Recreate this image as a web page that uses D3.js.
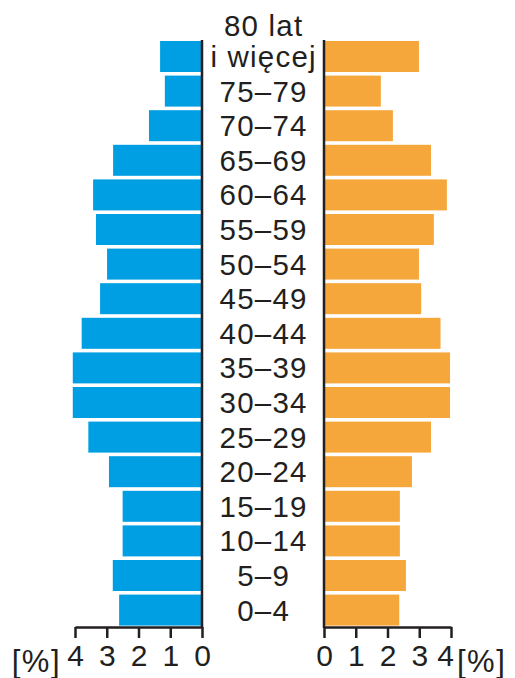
<!DOCTYPE html>
<html><head><meta charset="utf-8">
<script src="https://cdn.jsdelivr.net/npm/d3@7"></script>
<style>
html,body{margin:0;padding:0;background:#fff;}
svg{display:block;font-family:"Liberation Sans",Arial,Helvetica,sans-serif;}
</style></head>
<body>
<svg id="c" width="515" height="678"></svg>
<script>
const ageGroups = ["80+","75–79","70–74","65–69","60–64","55–59","50–54","45–49","40–44","35–39","30–34","25–29","20–24","15–19","10–14","5–9","0–4"];
const ageLabels = [["80 lat","i więcej"],["75–79"],["70–74"],["65–69"],["60–64"],["55–59"],["50–54"],["45–49"],["40–44"],["35–39"],["30–34"],["25–29"],["20–24"],["15–19"],["10–14"],["5–9"],["0–4"]];
const leftValues  = [1.32,1.17,1.67,2.80,3.43,3.34,2.99,3.21,3.79,4.07,4.07,3.58,2.93,2.50,2.50,2.81,2.61];
const rightValues = [2.99,1.79,2.17,3.37,3.87,3.46,2.99,3.06,3.67,3.97,3.97,3.37,2.77,2.39,2.39,2.58,2.37];
const tickValues = [0,1,2,3,4];
const unitLabel = "[%]";

const svg = d3.select("#c");
const ink = "#231f20";
const blue = "#009fe3", orange = "#f5a73b";

const y = d3.scaleBand().domain(ageGroups).range([41, 625.6]).paddingInner(0.104).paddingOuter(0);
const xL = d3.scaleLinear().domain([0,4]).range([202,75]);
const xR = d3.scaleLinear().domain([0,4]).range([324,451]);
const axisY = 627;

// bars
svg.append("g").selectAll("rect").data(ageGroups).join("rect")
  .attr("x", (d,i)=>xL(leftValues[i]))
  .attr("y", d=>y(d))
  .attr("width", (d,i)=>xL(0)-xL(leftValues[i]))
  .attr("height", y.bandwidth())
  .attr("fill", blue);
svg.append("g").selectAll("rect").data(ageGroups).join("rect")
  .attr("x", xR(0))
  .attr("y", d=>y(d))
  .attr("width", (d,i)=>xR(rightValues[i])-xR(0))
  .attr("height", y.bandwidth())
  .attr("fill", orange);

// vertical axis lines
[xL(0), xR(0)].forEach(x=>{
  svg.append("line").attr("x1",x).attr("x2",x).attr("y1",40).attr("y2",axisY+1)
    .attr("stroke",ink).attr("stroke-width",2.5);
});

// bottom axes
function styleAxis(g){
  g.select(".domain").attr("stroke",ink).attr("stroke-width",2.5);
  g.selectAll(".tick line").attr("stroke",ink).attr("stroke-width",2.5);
  g.selectAll(".tick text").attr("fill",ink).attr("font-size",30)
    .attr("font-family","Liberation Sans, Arial, sans-serif");
}
const gL = svg.append("g").attr("transform",`translate(0,${axisY})`)
  .call(d3.axisBottom(xL).tickValues(tickValues).tickSize(11).tickSizeOuter(0).tickPadding(7).tickFormat(d3.format("d")));
styleAxis(gL);
const gR = svg.append("g").attr("transform",`translate(0,${axisY})`)
  .call(d3.axisBottom(xR).tickValues(tickValues).tickSize(11).tickSizeOuter(0).tickPadding(7).tickFormat(d3.format("d")));
styleAxis(gR);
gR.selectAll(".tick text").filter(d=>d===4).attr("dx",-6);

svg.append("text").attr("x",61).attr("y",672).attr("text-anchor","end")
  .attr("font-size",31).attr("letter-spacing",1.5).attr("fill",ink).text(unitLabel);
svg.append("text").attr("x",457).attr("y",672).attr("text-anchor","start")
  .attr("font-size",31).attr("letter-spacing",1.5).attr("fill",ink).text(unitLabel);

// age labels
const cx = (xL(0)+xR(0))/2;
const lab = svg.append("g").attr("font-size",29.5).attr("letter-spacing",1.2).attr("fill",ink).attr("text-anchor","middle");
ageGroups.forEach((g,i)=>{
  const lines = ageLabels[i];
  const base = y(g) + y.bandwidth()/2 + 10.5;
  lines.forEach((t,j)=>{
    lab.append("text").attr("x",cx + 0.6).attr("y", base - (lines.length-1-j)*31).text(t);
  });
});
</script>
</body></html>
